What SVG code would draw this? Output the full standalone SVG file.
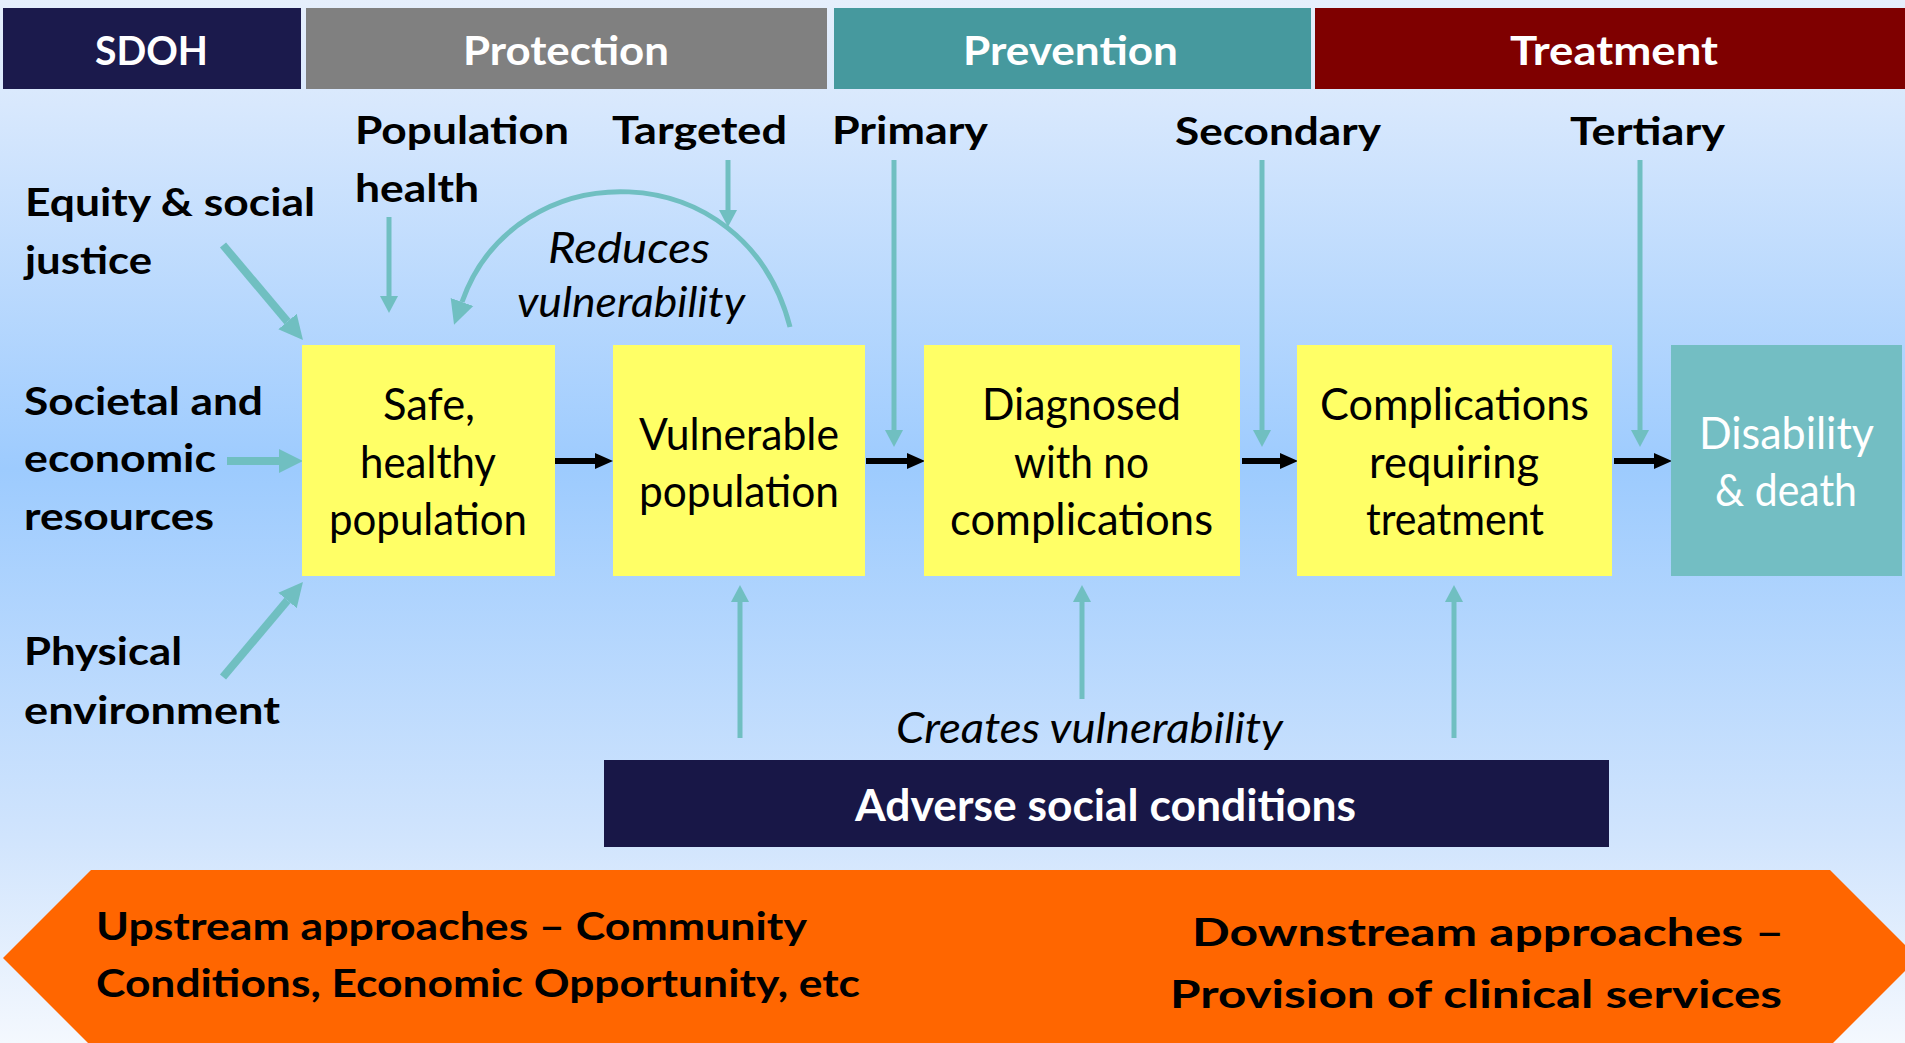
<svg xmlns="http://www.w3.org/2000/svg" width="1905" height="1043" viewBox="0 0 1905 1043">
<style>
text{font-family:Lato,"Open Sans","Liberation Sans",sans-serif;}
.hd{fill:#fff;font-weight:700;font-size:40px;}
.lb{fill:#000;font-weight:700;font-size:39px;}
.bx{fill:#000;font-weight:400;font-size:44px;}
.it{fill:#000;font-style:italic;font-size:43px;}
.tl{stroke:#70bfc1;stroke-width:5;fill:none;}
.tk{stroke:#70bfc1;stroke-width:8;fill:none;}
.bk{stroke:#000;stroke-width:6;fill:none;}
.yb{fill:#ffff66;}
</style>
<defs>
<linearGradient id="bg" x1="0" y1="0" x2="0" y2="1">
<stop offset="0" stop-color="#e6effc"/>
<stop offset="0.1" stop-color="#d8e8fd"/>
<stop offset="0.45" stop-color="#9dcbfe"/>
<stop offset="0.8" stop-color="#d0e4fd"/>
<stop offset="1" stop-color="#f4f8fe"/>
</linearGradient>
<marker id="hS" markerUnits="userSpaceOnUse" viewBox="0 -10 18 20" refX="0" refY="0" markerWidth="18" markerHeight="20" orient="auto"><path d="M0,-9 L17,0 L0,9 z" fill="#70bfc1"/></marker>
<marker id="hL" markerUnits="userSpaceOnUse" viewBox="0 -13 25 26" refX="0" refY="0" markerWidth="25" markerHeight="26" orient="auto"><path d="M0,-12 L24,0 L0,12 z" fill="#70bfc1"/></marker>
<marker id="hB" markerUnits="userSpaceOnUse" viewBox="0 -9 19 18" refX="0" refY="0" markerWidth="19" markerHeight="18" orient="auto"><path d="M0,-8 L18,0 L0,8 z" fill="#000"/></marker>
</defs>
<rect x="0" y="0" width="1905" height="1043" fill="url(#bg)"/>

<g id="header">
<g id="h-sdoh"><rect x="3" y="8" width="298" height="81" fill="#1b1a4c"/><text class="hd" x="95" y="65" textLength="113" lengthAdjust="spacingAndGlyphs">SDOH</text></g>
<g id="h-protection"><rect x="306" y="8" width="521" height="81" fill="#808080"/><text class="hd" x="463" y="65" textLength="206" lengthAdjust="spacingAndGlyphs">Protection</text></g>
<g id="h-prevention"><rect x="834" y="8" width="477" height="81" fill="#46999e"/><text class="hd" x="963" y="65" textLength="215" lengthAdjust="spacingAndGlyphs">Prevention</text></g>
<g id="h-treatment"><rect x="1315" y="8" width="590" height="81" fill="#7f0000"/><text class="hd" x="1510" y="65" textLength="208" lengthAdjust="spacingAndGlyphs">Treatment</text></g>
</g>

<g id="labels">
<g id="l-pophealth"><text class="lb" x="355" y="144" textLength="214" lengthAdjust="spacingAndGlyphs">Population</text><text class="lb" x="355" y="202" textLength="124" lengthAdjust="spacingAndGlyphs">health</text></g>
<g id="l-targeted"><text class="lb" x="612" y="144" textLength="175" lengthAdjust="spacingAndGlyphs">Targeted</text></g>
<g id="l-primary"><text class="lb" x="832" y="144" textLength="156" lengthAdjust="spacingAndGlyphs">Primary</text></g>
<g id="l-secondary"><text class="lb" x="1175" y="145" textLength="206" lengthAdjust="spacingAndGlyphs">Secondary</text></g>
<g id="l-tertiary"><text class="lb" x="1570" y="145" textLength="155" lengthAdjust="spacingAndGlyphs">Tertiary</text></g>
<g id="l-equity"><text class="lb" x="25" y="216" textLength="290" lengthAdjust="spacingAndGlyphs">Equity &amp; social</text><text class="lb" x="25" y="274" textLength="127" lengthAdjust="spacingAndGlyphs">justice</text></g>
<g id="l-societal"><text class="lb" x="24" y="415" textLength="239" lengthAdjust="spacingAndGlyphs">Societal and</text><text class="lb" x="24" y="472" textLength="192" lengthAdjust="spacingAndGlyphs">economic</text><text class="lb" x="24" y="530" textLength="190" lengthAdjust="spacingAndGlyphs">resources</text></g>
<g id="l-physical"><text class="lb" x="24" y="665" textLength="158" lengthAdjust="spacingAndGlyphs">Physical</text><text class="lb" x="24" y="724" textLength="256" lengthAdjust="spacingAndGlyphs">environment</text></g>
<g id="l-reduces"><text class="it" x="548" y="263" textLength="162" lengthAdjust="spacingAndGlyphs">Reduces</text><text class="it" x="517" y="317" textLength="228" lengthAdjust="spacingAndGlyphs">vulnerability</text></g>
<g id="l-creates"><text class="it" x="896" y="743" font-size="45" textLength="387" lengthAdjust="spacingAndGlyphs">Creates vulnerability</text></g>
</g>

<g id="connectors">
<line class="tl" x1="389" y1="217" x2="389" y2="296" marker-end="url(#hS)"/>
<line class="tl" x1="728" y1="160" x2="728" y2="210" marker-end="url(#hS)"/>
<line class="tl" x1="894" y1="160" x2="894" y2="430" marker-end="url(#hS)"/>
<line class="tl" x1="1262" y1="160" x2="1262" y2="430" marker-end="url(#hS)"/>
<line class="tl" x1="1640" y1="160" x2="1640" y2="430" marker-end="url(#hS)"/>
<line class="tl" x1="740" y1="738" x2="740" y2="602" marker-end="url(#hS)"/>
<line class="tl" x1="1082" y1="699" x2="1082" y2="602" marker-end="url(#hS)"/>
<line class="tl" x1="1454" y1="738" x2="1454" y2="602" marker-end="url(#hS)"/>
<line class="tk" x1="223" y1="245" x2="287.5" y2="321.6" marker-end="url(#hL)"/>
<line class="tk" x1="227" y1="461" x2="279" y2="461" marker-end="url(#hL)"/>
<line class="tk" x1="223" y1="677" x2="287.5" y2="600.4" marker-end="url(#hL)"/>
<path class="tl" d="M790,327 C745,151 515,151 462,302" marker-end="url(#hL)"/>
<line class="bk" x1="555" y1="461" x2="595" y2="461" marker-end="url(#hB)"/>
<line class="bk" x1="866" y1="461" x2="907" y2="461" marker-end="url(#hB)"/>
<line class="bk" x1="1242" y1="461" x2="1280" y2="461" marker-end="url(#hB)"/>
<line class="bk" x1="1614" y1="461" x2="1654" y2="461" marker-end="url(#hB)"/>
</g>

<g id="n-safe"><rect class="yb" x="302" y="345" width="253" height="231"/>
<text class="bx" x="383" y="420" textLength="92" lengthAdjust="spacingAndGlyphs">Safe,</text>
<text class="bx" x="360" y="478" textLength="136" lengthAdjust="spacingAndGlyphs">healthy</text>
<text class="bx" x="329" y="535" textLength="198" lengthAdjust="spacingAndGlyphs">population</text></g>
<g id="n-vulnerable"><rect class="yb" x="613" y="345" width="252" height="231"/>
<text class="bx" x="639" y="450" textLength="200" lengthAdjust="spacingAndGlyphs">Vulnerable</text>
<text class="bx" x="639" y="507" textLength="200" lengthAdjust="spacingAndGlyphs">population</text></g>
<g id="n-diagnosed"><rect class="yb" x="924" y="345" width="316" height="231"/>
<text class="bx" x="982" y="420" textLength="199" lengthAdjust="spacingAndGlyphs">Diagnosed</text>
<text class="bx" x="1014" y="478" textLength="135" lengthAdjust="spacingAndGlyphs">with no</text>
<text class="bx" x="950" y="535" textLength="263" lengthAdjust="spacingAndGlyphs">complications</text></g>
<g id="n-complications"><rect class="yb" x="1297" y="345" width="315" height="231"/>
<text class="bx" x="1320" y="420" textLength="269" lengthAdjust="spacingAndGlyphs">Complications</text>
<text class="bx" x="1369" y="478" textLength="170" lengthAdjust="spacingAndGlyphs">requiring</text>
<text class="bx" x="1366" y="535" textLength="178" lengthAdjust="spacingAndGlyphs">treatment</text></g>
<g id="n-disability"><rect x="1671" y="345" width="231" height="231" fill="#73bec3"/>
<text class="bx" x="1699" y="449" fill="#fff" style="fill:#fff" textLength="175" lengthAdjust="spacingAndGlyphs">Disability</text>
<text class="bx" x="1715" y="506" style="fill:#fff" textLength="142" lengthAdjust="spacingAndGlyphs">&amp; death</text></g>

<g id="n-adverse"><rect x="604" y="760" width="1005" height="87" fill="#181747"/>
<text x="855" y="821" fill="#fff" font-weight="700" font-size="43" textLength="501" lengthAdjust="spacingAndGlyphs">Adverse social conditions</text></g>

<g id="n-banner"><path d="M91,870 L1830,870 L1918,958 L1830,1046 L91,1046 L3,958 z" fill="#ff6600"/>
<text class="lb" x="96" y="940" textLength="711" lengthAdjust="spacingAndGlyphs">Upstream approaches – Community</text>
<text class="lb" x="96" y="997" textLength="764" lengthAdjust="spacingAndGlyphs">Conditions, Economic Opportunity, etc</text>
<text class="lb" x="1192" y="946" font-size="45" textLength="592" lengthAdjust="spacingAndGlyphs">Downstream approaches –</text>
<text class="lb" x="1170" y="1008" font-size="45" textLength="612" lengthAdjust="spacingAndGlyphs">Provision of clinical services</text></g>
</svg>
